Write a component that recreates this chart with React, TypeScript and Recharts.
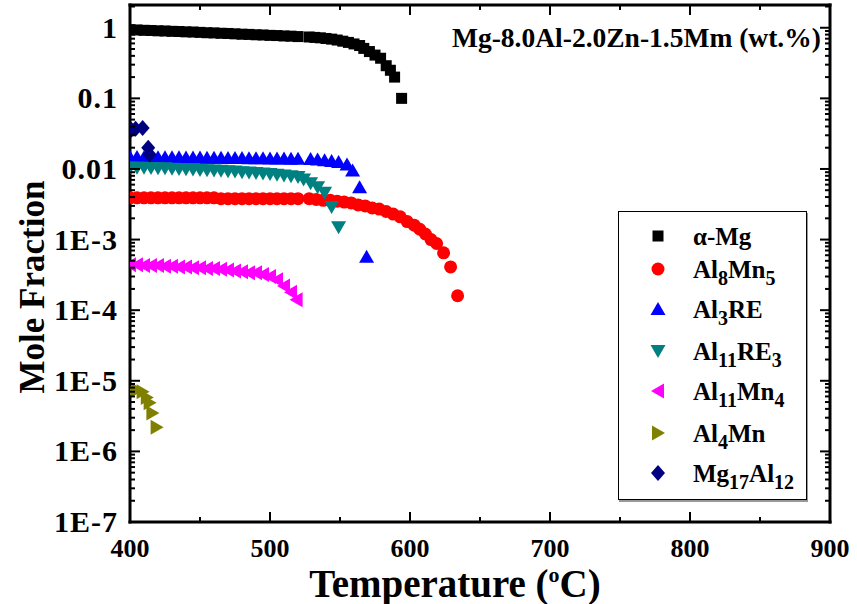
import React from "react";
import { ScatterChart, Scatter, XAxis, YAxis, Legend, Customized } from "recharts";

const FONT = '"Liberation Serif", "Times New Roman", serif';

// plot frame in page pixels
const PLOT = { left: 130, top: 5, right: 830, bottom: 522 };
const W = 857;
const H = 604;

// x ticks (°C)
const X_MAJOR = [400, 500, 600, 700, 800, 900];
const X_MINOR = [450, 550, 650, 750, 850];
const X_TICKS = [...X_MAJOR, ...X_MINOR].sort((a, b) => a - b);

// y ticks (log)
const Y_MAJOR = [1e-7, 1e-6, 1e-5, 1e-4, 1e-3, 0.01, 0.1, 1];
const Y_LABELS = ["1E-7", "1E-6", "1E-5", "1E-4", "1E-3", "0.01", "0.1", "1"];
const Y_MINOR: number[] = [];
Y_MAJOR.forEach((d) => {
  for (let m = 2; m <= 9; m++) {
    const v = Number((m * d).toPrecision(2));
    if (v < 2.1) Y_MINOR.push(v);
  }
});
const Y_TICKS = [...Y_MAJOR, ...Y_MINOR].sort((a, b) => a - b);

// alpha-Mg
const alphaMgT = [400, 405, 410, 415, 420, 425, 430, 435, 440, 445, 450, 455, 460, 465, 470, 475, 480, 485, 490, 495, 500, 505, 510, 515, 520,
  528, 532, 536, 540, 544, 548, 552, 556, 560, 564, 567, 571, 575, 579, 583, 586, 589, 594];
const alphaMgV = [0.94, 0.93, 0.92, 0.915, 0.905, 0.9, 0.89, 0.885, 0.875, 0.87, 0.86, 0.85, 0.845, 0.835, 0.83, 0.82, 0.81, 0.805, 0.795, 0.79, 0.78, 0.775, 0.765, 0.76, 0.75,
  0.74, 0.73, 0.72, 0.705, 0.69, 0.67, 0.645, 0.62, 0.59, 0.56, 0.51, 0.46, 0.41, 0.37, 0.29, 0.25, 0.2, 0.1];

// Al8Mn5
const al8Mn5T = [400, 405, 410, 415, 420, 425, 430, 435, 440, 445, 450, 455, 460, 465, 470, 475, 480, 485, 490, 495, 500, 505, 510, 515, 520,
  528, 533, 538, 543, 548, 553, 558, 563, 568, 573, 578, 583, 588, 593, 598, 603, 607, 611, 615, 619, 624, 629, 634];
const al8Mn5V = [0.0039, 0.0039, 0.0039, 0.0039, 0.0039, 0.0039, 0.0039, 0.0039, 0.0039, 0.0039, 0.0039, 0.0039, 0.0039, 0.0038, 0.0038, 0.0038, 0.0038, 0.0038, 0.0038, 0.0038, 0.0038, 0.0038, 0.0038, 0.0038, 0.0038,
  0.0038, 0.0037, 0.0036, 0.0036, 0.0035, 0.0034, 0.0033, 0.0031, 0.003, 0.0028, 0.0027, 0.0025, 0.0023, 0.0021, 0.0018, 0.0016, 0.0014, 0.0012, 0.001, 0.00088, 0.00065, 0.00041, 0.00016];

// Al3RE
const al3ReT = [400, 405, 410, 415, 420, 425, 430, 435, 440, 445, 450, 455, 460, 465, 470, 475, 480, 485, 490, 495, 500, 505, 510, 515, 520,
  529, 534, 539, 544, 549, 555, 559, 564, 569];
const al3ReV = [0.0148, 0.0148, 0.0147, 0.0147, 0.0147, 0.0146, 0.0146, 0.0146, 0.0145, 0.0145, 0.0145, 0.0144, 0.0144, 0.0144, 0.0143, 0.0143, 0.0143, 0.0142, 0.0142, 0.0142, 0.0141, 0.0141, 0.0141, 0.014, 0.014,
  0.0138, 0.0136, 0.0133, 0.013, 0.0125, 0.0116, 0.0095, 0.0055, 0.00057];

// Al11RE3
const al11Re3T = [400, 405, 410, 415, 420, 425, 430, 435, 440, 445, 450, 455, 460, 465, 470, 475, 480, 485, 490, 495, 500, 505, 510, 515, 520,
  524, 529, 534, 539, 544, 549];
const al11Re3V = [0.0105, 0.0104, 0.0104, 0.0103, 0.0102, 0.0102, 0.0101, 0.01, 0.0099, 0.0098, 0.0097, 0.0096, 0.0095, 0.0094, 0.0093, 0.0092, 0.009, 0.0089, 0.0088, 0.0086, 0.0085, 0.0083, 0.0081, 0.0079, 0.0077,
  0.0071, 0.0063, 0.0055, 0.0046, 0.0029, 0.0015];

// Al11Mn4
const al11Mn4T = [400, 405, 410, 415, 420, 425, 430, 435, 440, 445, 450, 455, 460, 465, 470, 475, 480, 485, 490, 495, 500, 505, 510, 515, 519];
const al11Mn4V = [0.00044, 0.00044, 0.00043, 0.00043, 0.00043, 0.00042, 0.00042, 0.00041, 0.00041, 0.0004, 0.0004, 0.00039, 0.00039, 0.00038, 0.00037, 0.00036, 0.00035, 0.00034, 0.00034, 0.00032, 0.0003, 0.00027, 0.00022, 0.00018, 0.00014];

// Al4Mn
const al4MnT = [401, 405, 409, 412, 414, 416, 419];
const al4MnV = [7.2e-6, 7.4e-6, 7.0e-6, 5.8e-6, 4.9e-6, 3.5e-6, 2.2e-6];

// Mg17Al12
const mg17Al12T = [401, 404, 409, 413, 414];
const mg17Al12V = [0.036, 0.037, 0.038, 0.02, 0.016];

type Shape = "square" | "circle" | "up" | "down" | "left" | "right" | "diamond";

const SERIES: { key: string; color: string; shape: Shape; t: number[]; v: number[]; label: React.ReactNode }[] = [
  { key: "aMg", color: "#000000", shape: "square", t: alphaMgT, v: alphaMgV, label: <>α-Mg</> },
  { key: "al8mn5", color: "#FF0000", shape: "circle", t: al8Mn5T, v: al8Mn5V, label: <>Al<Sub>8</Sub>Mn<Sub>5</Sub></> },
  { key: "al3re", color: "#0000FF", shape: "up", t: al3ReT, v: al3ReV, label: <>Al<Sub>3</Sub>RE</> },
  { key: "al11re3", color: "#008080", shape: "down", t: al11Re3T, v: al11Re3V, label: <>Al<Sub>11</Sub>RE<Sub>3</Sub></> },
  { key: "al11mn4", color: "#FF00FF", shape: "left", t: al11Mn4T, v: al11Mn4V, label: <>Al<Sub>11</Sub>Mn<Sub>4</Sub></> },
  { key: "al4mn", color: "#808000", shape: "right", t: al4MnT, v: al4MnV, label: <>Al<Sub>4</Sub>Mn</> },
  { key: "mg17al12", color: "#000080", shape: "diamond", t: mg17Al12T, v: mg17Al12V, label: <>Mg<Sub>17</Sub>Al<Sub>12</Sub></> },
];

function Sub({ children }: { children: React.ReactNode }) {
  return <span style={{ fontSize: "0.8em", verticalAlign: "-0.35em", lineHeight: 0 }}>{children}</span>;
}

function markerEl(shape: Shape, color: string, cx: number, cy: number) {
  switch (shape) {
    case "square":
      return <rect x={cx - 5.5} y={cy - 5.5} width={11} height={11} fill={color} />;
    case "circle":
      return <circle cx={cx} cy={cy} r={6.5} fill={color} />;
    case "up":
      return <polygon points={`${cx},${cy - 7} ${cx + 7.5},${cy + 6} ${cx - 7.5},${cy + 6}`} fill={color} />;
    case "down":
      return <polygon points={`${cx - 7.5},${cy - 6} ${cx + 7.5},${cy - 6} ${cx},${cy + 7}`} fill={color} />;
    case "left":
      return <polygon points={`${cx - 7},${cy} ${cx + 6},${cy - 7.5} ${cx + 6},${cy + 7.5}`} fill={color} />;
    case "right":
      return <polygon points={`${cx + 7},${cy} ${cx - 6},${cy - 7.5} ${cx - 6},${cy + 7.5}`} fill={color} />;
    case "diamond":
      return <polygon points={`${cx},${cy - 8} ${cx + 7},${cy} ${cx},${cy + 8} ${cx - 7},${cy}`} fill={color} />;
  }
}

const textStyle = { fontFamily: FONT, fontWeight: 700, fill: "#000" } as const;

function BottomTick(p: any) {
  const v = p.payload.value;
  const major = X_MAJOR.includes(v);
  return (
    <g>
      <line x1={p.x} x2={p.x} y1={PLOT.bottom} y2={PLOT.bottom - (major ? 10 : 5)} stroke="#000" strokeWidth={2} />
      {major && (
        <text x={p.x} y={PLOT.bottom + 35} textAnchor="middle" fontSize={26} style={textStyle}>
          {v}
        </text>
      )}
    </g>
  );
}

function TopTick(p: any) {
  const major = X_MAJOR.includes(p.payload.value);
  return <line x1={p.x} x2={p.x} y1={PLOT.top} y2={PLOT.top + (major ? 10 : 5)} stroke="#000" strokeWidth={2} />;
}

function majorIndex(v: number) {
  return Y_MAJOR.findIndex((d) => Math.abs(d - v) / d < 1e-6);
}

function LeftTick(p: any) {
  const i = majorIndex(p.payload.value);
  return (
    <g>
      <line x1={PLOT.left} x2={PLOT.left + (i >= 0 ? 10 : 5)} y1={p.y} y2={p.y} stroke="#000" strokeWidth={2} />
      {i >= 0 && (
        <text x={PLOT.left - 12} y={p.y + 10} textAnchor="end" fontSize={30} letterSpacing={1} style={textStyle}>
          {Y_LABELS[i]}
        </text>
      )}
    </g>
  );
}

function RightTick(p: any) {
  const i = majorIndex(p.payload.value);
  return <line x1={PLOT.right} x2={PLOT.right - (i >= 0 ? 10 : 5)} y1={p.y} y2={p.y} stroke="#000" strokeWidth={2} />;
}

function Titles() {
  return (
    <g style={textStyle}>
      <text x={455} y={597} textAnchor="middle" fontSize={39} style={textStyle}>
        Temperature (<tspan dy={-15} fontSize={22}>o</tspan>
        <tspan dy={15}>C)</tspan>
      </text>
      <text transform="translate(44,287) rotate(-90)" textAnchor="middle" fontSize={35} style={textStyle}>
        Mole Fraction
      </text>
      <text x={452} y={47} fontSize={27.5} style={textStyle}>
        Mg-8.0Al-2.0Zn-1.5Mm (wt.%)
      </text>
    </g>
  );
}

const LEGEND_ROWS = [24, 57, 97, 139, 179, 221, 261];

function LegendBox() {
  return (
    <div
      style={{
        width: 189,
        height: 289,
        border: "1.5px solid #000",
        boxSizing: "border-box",
        background: "#fff",
        position: "relative",
        boxShadow: "1px 2px 0 #999",
        fontFamily: FONT,
        fontWeight: 700,
        fontSize: 25,
        color: "#000",
      }}
    >
      {SERIES.map((s, i) => (
        <div key={s.key} style={{ position: "absolute", left: 0, top: LEGEND_ROWS[i] - 16, height: 32, display: "flex", alignItems: "center", whiteSpace: "nowrap" }}>
          <svg width={30} height={20} style={{ marginLeft: 24 }}>
            {markerEl(s.shape, s.color, 15, 10)}
          </svg>
          <span style={{ marginLeft: 20, lineHeight: 1 }}>{s.label}</span>
        </div>
      ))}
    </div>
  );
}

export default function App() {
  const axisLine = { stroke: "#000", strokeWidth: 3, strokeLinecap: "square" as const };
  return (
    <div style={{ position: "absolute", left: 0, top: 0, width: W, height: H, background: "#fff" }}>
      <ScatterChart
        width={W}
        height={H}
        margin={{ top: PLOT.top - 1, right: W - PLOT.right - 1, bottom: H - PLOT.bottom - 60, left: PLOT.left - 100 }}
      >
        <XAxis
          type="number"
          dataKey="x"
          domain={[400, 900]}
          allowDataOverflow
          ticks={X_TICKS}
          interval={0}
          tickLine={false}
          tick={BottomTick}
          axisLine={axisLine}
          height={60}
        />
        <XAxis
          xAxisId="top"
          orientation="top"
          type="number"
          dataKey="x"
          domain={[400, 900]}
          allowDataOverflow
          ticks={X_TICKS}
          interval={0}
          tickLine={false}
          tick={TopTick}
          axisLine={axisLine}
          height={1}
        />
        <YAxis
          type="number"
          dataKey="y"
          scale="log"
          domain={[1e-7, 2.1]}
          allowDataOverflow
          ticks={Y_TICKS}
          interval={0}
          tickLine={false}
          tick={LeftTick}
          axisLine={axisLine}
          width={100}
        />
        <YAxis
          yAxisId="right"
          orientation="right"
          type="number"
          dataKey="y"
          scale="log"
          domain={[1e-7, 2.1]}
          allowDataOverflow
          ticks={Y_TICKS}
          interval={0}
          tickLine={false}
          tick={RightTick}
          axisLine={axisLine}
          width={1}
        />
        {SERIES.map((s) => (
          <Scatter
            key={s.key}
            name={s.key}
            data={s.t.map((x, i) => ({ x, y: s.v[i] }))}
            fill={s.color}
            isAnimationActive={false}
            shape={(props: any) => markerEl(s.shape, s.color, props.cx, props.cy)}
          />
        ))}
        <Legend
          layout="vertical"
          align="center"
          verticalAlign="middle"
          content={LegendBox}
          wrapperStyle={{ left: 618, top: 211, width: 189, height: 289 }}
        />
        <Customized component={Titles} />
      </ScatterChart>
    </div>
  );
}
